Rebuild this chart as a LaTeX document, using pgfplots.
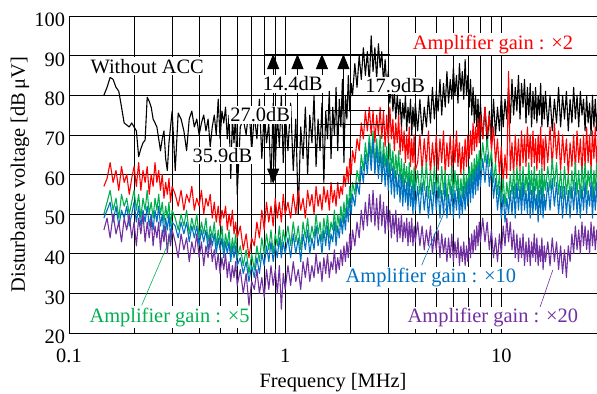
\documentclass[border=0pt]{standalone}
\usepackage{fontspec}
\setmainfont{Liberation Serif}
\usepackage{pgfplots}
\pgfplotsset{compat=1.18}
\usepackage{pgfplotstable}
\usetikzlibrary{arrows.meta}

\definecolor{gainTwo}{RGB}{255,0,0}
\definecolor{gainFive}{RGB}{0,176,80}
\definecolor{gainTen}{RGB}{0,112,192}
\definecolor{gainTwenty}{RGB}{112,48,160}

% f [MHz]; K: without ACC; R, G, B, P: amplifier gain x2, x5, x10, x20 [dB uV]
\pgfplotstableread{
f K R G B P
0.145 80 57 50 49 46
0.150 82 59 53 51 49
0.155 84.5 63 56 53 44
0.160 84 58 51 48 50
0.165 82 61 54 52 45
0.170 81 56 49 47 48
0.175 77 62 55 51 43
0.180 73 58 52 49 49
0.185 72.5 60 54 52 46
0.190 72 55 50 47 50
0.195 73 59 53 50 44
0.200 72 62 56 53 48
0.205 71 57 51 48 42
0.210 64.5 63 55 52 49
0.215 66.5 56 49 47 45
0.220 68 61 54 51 50
0.225 68.7 58 51 48 43
0.230 79.5 62 56 52 48
0.235 78.5 55 50 47 44
0.240 77 60 53 50 49
0.245 74 57 49 46 42
0.250 73 63 54 51 47
0.255 72 58 51 48 44
0.260 69 61 55 52 48
0.265 66 56 50 47 41
0.270 69 60 53 50 46
0.275 71 54 48 45 43
0.280 64 58 52 49 47
0.285 61 55 49 46 40
0.290 68 59 53 50 45
0.295 72 53 47 44 42
0.300 76 57 51 48 46
0.31 61 55 49 47 43
0.32 75.5 52 46 44 39
0.33 74 56 50 48 45
0.34 71 51 47 45 41
0.35 66 55 51 48 44
0.36 74 53 45 43 38
0.37 76 57 49 47 43
0.38 72 51 46 44 40
0.39 74 54 50 47 45
0.40 70 52 44 42 39
0.41 73 56 48 46 43
0.42 75 50 45 43 37
0.43 71 54 49 46 42
0.44 74 52 43 41 39
0.45 67 55 47 45 44
0.46 72 49 44 42 38
0.47 75 53 48 45 41
0.48 70 48 42 40 36
0.49 79 52 46 44 40
0.50 69 47 43 41 35
0.51 76 51 47 44 39
0.52 73 49 41 39 36
0.53 77 52 45 43 40
0.54 69 46 42 40 34
0.55 75 50 46 43 38
0.56 59 47 40 38 33
0.57 74 51 44 42 37
0.58 68 45 41 39 34
0.59 76 48 45 42 38
0.60 55 44 39 37 32
0.62 72 47 42 39 36
0.64 74 41 37 35 30
0.66 70 45 41 38 35
0.68 77 39 35 33 27
0.70 66 44 40 37 33
0.72 75 42 36 34 31
0.74 69 48 42 39 36
0.76 79 44 38 35 30
0.78 64 51 44 40 34
0.80 76 46 40 37 29
0.82 68 53 45 42 36
0.84 73 48 41 38 31
0.86 58 52 46 43 37
0.88 78 47 40 38 32
0.90 62 54 45 42 36
0.92 75 49 42 39 30
0.94 67 53 47 44 37
0.96 80 48 41 39 26
0.98 63 55 46 43 35
1.00 76 50 43 40 31
1.03 66 53 47 44 37
1.06 78 49 42 39 32
1.09 61 55 48 45 38
1.12 74 50 43 40 33
1.15 50 56 47 44 36
1.18 72 51 41 38 31
1.21 64 54 48 45 38
1.24 77 49 44 41 34
1.27 60 56 49 46 39
1.30 75 52 43 40 33
1.33 68 55 47 44 37
1.36 80 50 44 41 34
1.39 62 57 50 47 40
1.42 74 52 45 42 35
1.45 66 55 48 45 38
1.48 78 51 43 40 33
1.51 58 57 49 46 39
1.54 76 53 45 42 35
1.57 69 56 50 47 40
1.60 81 51 44 41 34
1.63 64 58 48 45 38
1.66 77 53 46 43 36
1.69 70 56 51 48 41
1.72 82 52 45 42 35
1.75 66 58 50 47 39
1.78 79 54 47 44 36
1.81 72 57 52 49 41
1.84 84 55 48 45 37
1.87 63 60 53 50 42
1.90 80 57 49 46 38
1.93 74 62 55 52 43
1.96 85 58 51 48 39
1.99 76 64 57 54 45
2.02 83 60 53 50 41
2.05 80 66 58 55 46
2.10 88 63 55 52 42
2.15 82 69 61 58 48
2.20 90 66 58 55 44
2.25 84 73 65 62 51
2.30 92 69 61 58 46
2.35 85 76 68 65 53
2.40 91 71 63 60 47
2.45 83 77 70 68 55
2.50 95 70 64 61 48
2.55 86 76 71 69 56
2.60 92 68 62 60 47
2.65 84 75 69 67 54
2.70 93 70 63 59 46
2.75 87 77 70 66 55
2.80 91 69 61 58 47
2.85 83 76 68 65 53
2.90 89 67 62 57 45
2.95 82 75 67 64 52
3.00 86 68 60 56 46
3.05 78 77 68 63 51
3.10 84 69 61 55 44
3.15 76 74 66 62 50
3.20 81 66 59 54 45
3.25 74 73 65 61 51
3.30 80 68 60 55 43
3.35 75 75 66 60 49
3.40 79 65 58 53 44
3.45 72 72 64 60 50
3.50 78 66 57 52 43
3.55 74 71 63 59 48
3.60 80 63 58 53 44
3.65 71 70 62 58 49
3.70 77 64 56 51 42
3.75 73 72 63 59 48
3.80 79 62 57 52 43
3.85 70 69 61 57 49
3.90 77 63 55 50 42
3.95 72 70 62 58 47
4.00 78 61 56 51 43
4.1 71 63 61 57 48
4.2 79 70 55 50 42
4.3 70 61 62 58 47
4.4 77 69 56 51 41
4.5 72 62 63 57 46
4.6 80 71 54 49 42
4.7 73 60 61 56 47
4.8 82 68 55 50 40
4.9 74 62 62 58 45
5.0 81 70 56 51 41
5.1 76 61 60 57 46
5.2 84 69 54 49 39
5.3 75 63 62 56 45
5.4 83 71 55 50 40
5.5 77 60 61 58 44
5.6 86 68 53 49 38
5.7 78 62 60 55 44
5.8 84 70 55 50 39
5.9 79 61 62 57 45
6.0 87 69 54 49 38
6.1 80 63 61 56 43
6.2 85 71 56 51 39
6.3 78 62 60 57 44
6.4 88 68 53 49 37
6.5 81 60 59 55 42
6.6 86 67 54 50 38
6.7 79 61 61 57 43
6.8 89 69 55 51 37
6.9 80 62 60 58 42
7.0 85 70 56 52 38
7.1 77 64 62 59 44
7.2 84 71 57 53 39
7.3 75 65 63 60 45
7.4 82 73 58 54 40
7.5 73 66 64 61 46
7.6 80 72 59 55 41
7.7 72 67 65 62 47
7.8 79 74 60 56 42
7.9 70 68 66 63 48
8.0 78 75 61 57 43
8.2 69 69 68 64 49
8.4 77 77 63 58 43
8.6 67 70 69 65 48
8.8 76 75 62 57 41
9.0 68 66 66 62 46
9.2 79 72 58 54 39
9.4 70 63 63 59 44
9.6 77 69 55 51 38
9.8 71 60 60 57 45
10.0 80 67 53 49 40
10.2 72 58 59 55 47
10.4 79 65 52 48 42
10.6 74 59 58 54 49
10.8 82 86 54 50 43
11.0 73 61 60 56 48
11.2 84 68 55 50 41
11.4 75 60 61 57 46
11.6 82 70 54 49 39
11.8 76 62 62 58 45
12.0 85 69 56 51 38
12.2 74 61 61 57 44
12.4 83 71 54 50 39
12.6 77 63 62 58 45
12.8 84 70 55 51 37
13.0 73 62 60 56 43
13.2 82 72 56 50 38
13.4 75 64 63 58 44
13.6 83 70 55 49 37
13.8 72 62 61 56 43
14.0 81 71 54 50 39
14.2 74 63 62 57 45
14.4 82 69 56 51 38
14.6 73 61 60 55 44
14.8 80 70 53 48 37
15.0 75 63 61 56 42
15.2 83 72 55 50 38
15.4 72 62 62 57 44
15.6 80 69 54 49 36
15.8 74 61 60 55 42
16.0 81 70 56 51 38
16.4 72 63 62 58 43
16.8 80 72 56 51 37
17.2 71 62 64 59 44
17.6 79 73 57 52 38
18.0 73 64 63 58 43
18.4 82 71 55 50 36
18.8 72 61 61 57 42
19.2 80 70 54 49 35
19.6 74 63 62 57 41
20.0 81 69 55 50 34
20.4 71 60 60 56 42
20.8 79 68 54 49 38
21.2 73 62 61 57 45
21.6 82 70 56 51 40
22.0 74 61 63 58 47
22.4 80 71 55 50 41
22.8 72 63 61 56 46
23.2 81 69 54 49 40
23.6 75 60 62 57 48
24.0 79 70 56 51 42
24.4 71 62 63 58 47
24.8 80 72 55 50 41
25.2 73 63 61 56 46
25.6 78 70 57 52 40
26.0 70 61 62 58 48
26.4 80 71 54 49 42
26.8 72 64 61 57 47
27.2 79 72 56 51 41
27.6 71 62 63 58 46
28.0 78 70 55 50 42
}\spectra

\begin{document}
\fontsize{20.5}{24}\selectfont
\begin{tikzpicture}
\begin{axis}[
  scale only axis, width=528bp, height=317bp,
  xmode=log, xmin=0.1, xmax=27.7, ymin=20, ymax=100,
  ytick={20,30,...,100},
  xtick={0.1,1,10}, xticklabels={0.1,1,10},
  axis line style={draw=none},
  major tick length=0pt, minor tick length=0pt,
  xmajorgrids, xminorgrids, ymajorgrids,
  major grid style={black, line width=0.6bp},
  minor grid style={black, line width=0.6bp},
  /pgf/number format/assume math mode=true,
  xticklabel style={yshift=-9bp},
  yticklabel style={xshift=3bp, yshift=-4bp},
  xlabel={Frequency [MHz]},
  ylabel={Disturbance voltage [dB\,μV]},
  xlabel style={at={(axis description cs:0.5,-0.1735)}, anchor=base},
  ylabel style={at={(axis description cs:-0.0928,0.5)}, anchor=center},
  no markers,
  every axis plot/.append style={line width=1.1bp, line join=round},
]
\addplot[black] table[x=f, y=K] {\spectra};
\addplot[gainTwo] table[x=f, y=R] {\spectra};
\addplot[gainFive] table[x=f, y=G] {\spectra};
\addplot[gainTen] table[x=f, y=B] {\spectra};
\addplot[gainTwenty] table[x=f, y=P] {\spectra};

% reduction brackets
\draw[line width=0.8bp] (axis cs:0.80,90.4) -- (axis cs:3.04,90.4);
\draw[line width=0.8bp] (axis cs:1.55,76.3) -- (axis cs:2.9,76.3);
\draw[line width=0.8bp] (axis cs:1.40,72.6) -- (axis cs:2.9,72.6);
\draw[line width=0.8bp] (axis cs:0.78,66.8) -- (axis cs:2.05,66.8);
\draw[line width=0.8bp] (axis cs:0.77,57.7) -- (axis cs:2.8,57.7);
\tikzset{head/.tip={Triangle[width=12bp,length=15bp]}}
\draw[line width=0.8bp, head-head] (axis cs:0.88,57.7) -- (axis cs:0.88,90.4);
\draw[line width=0.8bp, -head] (axis cs:1.14,66.8) -- (axis cs:1.14,90.4);
\draw[line width=0.8bp, -head] (axis cs:1.48,72.6) -- (axis cs:1.48,90.4);
\draw[line width=0.8bp, -head] (axis cs:1.86,76.3) -- (axis cs:1.86,90.4);

% leader lines
\draw[gainFive, line width=0.6bp] (axis cs:0.217,27.0) -- (axis cs:0.296,44.2);
\draw[gainTen, line width=0.6bp] (axis cs:4.28,37.1) -- (axis cs:5.58,51.8);
\draw[gainTwenty, line width=0.6bp] (axis cs:15.1,26.5) -- (axis cs:17.3,35.9);

% labels
\tikzset{lbl/.style={fill=white, inner sep=1.5bp, anchor=base}}
\node[lbl] at (axis cs:0.230,85.6) {Without ACC};
\node[lbl] at (axis cs:1.083,81.1) {14.4dB};
\node[lbl] at (axis cs:3.23,80.7) {17.9dB};
\node[lbl] at (axis cs:0.766,73.3) {27.0dB};
\node[lbl] at (axis cs:0.513,63.05) {35.9dB};
\node[lbl, text=gainTwo] at (axis cs:9.15,91.6) {Amplifier gain : ×2};
\node[lbl, text=gainFive] at (axis cs:0.292,22.7) {Amplifier gain : ×5};
\node[lbl, text=gainTen] at (axis cs:4.72,32.75) {Amplifier gain : ×10};
\node[lbl, text=gainTwenty] at (axis cs:9.14,22.55) {Amplifier gain : ×20};
\end{axis}
\draw[line width=0.8bp] (current axis.north east) -- (current axis.north west)
  -- (current axis.south west) -- (current axis.south east);
\pgfresetboundingbox
\path ([shift={(-69bp,-61bp)}]current axis.south west) rectangle ([yshift=16bp]current axis.north east);
\end{tikzpicture}
\end{document}
